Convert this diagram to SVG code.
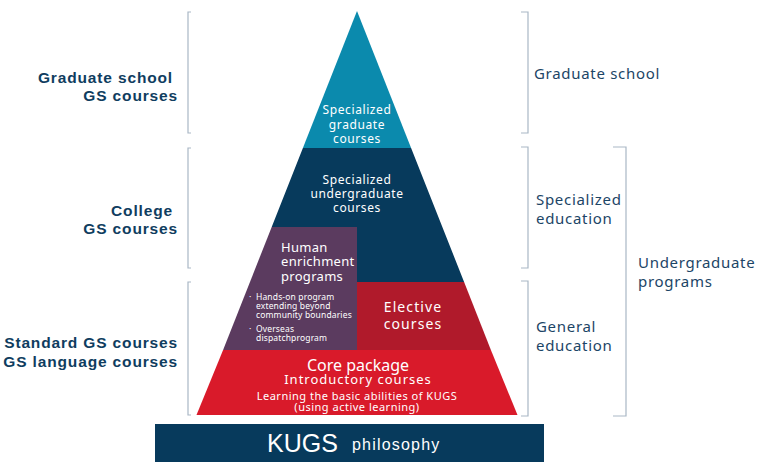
<svg xmlns="http://www.w3.org/2000/svg" width="759" height="474" viewBox="0 0 759 474">
<style>
.br{fill:none;stroke:#a9b7c5;stroke-width:1.2}
.in{font-family:"Noto Sans","Open Sans",sans-serif;fill:#fff;text-anchor:middle}
.lt{font-family:"Liberation Sans",Arial,sans-serif;font-weight:bold;font-size:15.5px;letter-spacing:0.85px;fill:#0f3d60;text-anchor:end}
.rt{font-family:"Noto Sans","Open Sans",sans-serif;font-size:15px;letter-spacing:0.7px;fill:#1c4566}
.bl{font-family:"Noto Sans","Open Sans",sans-serif;font-size:8.5px;letter-spacing:0.15px;fill:#fff}
</style>
<rect width="759" height="474" fill="#fff"/>
<g id="brackets">
<path class="br" d="M191,12 H188 V133 H191"/>
<path class="br" d="M191,148 H188 V268 H191"/>
<path class="br" d="M191,282 H188 V415 H191"/>
<path class="br" d="M521,12 H528 V133 H521"/>
<path class="br" d="M521,147 H528 V268 H521"/>
<path class="br" d="M521,281 H528 V416 H521"/>
<path class="br" d="M613,147 H626 V416 H613"/>
</g>
<g id="graduate">
<polygon points="357,11 411.1,148 302.9,148" fill="#0b8aad"/>
<text class="in" font-size="12" letter-spacing="0.6"><tspan x="357" y="114">Specialized</tspan><tspan x="357" y="129">graduate</tspan><tspan x="357" y="143">courses</tspan></text>
</g>
<g id="undergraduate">
<polygon points="302.9,148 411.1,148 464.1,282 357,282 357,227 271.7,227" fill="#073a5c"/>
<text class="in" font-size="12" letter-spacing="0.6"><tspan x="357" y="184">Specialized</tspan><tspan x="357" y="198">undergraduate</tspan><tspan x="357" y="212">courses</tspan></text>
</g>
<g id="human">
<polygon points="271.7,227 357,227 357,350 223.1,350" fill="#5b3b5f"/>
<text font-family="Noto Sans, Open Sans, sans-serif" font-size="13" letter-spacing="0.3" fill="#fff"><tspan x="281" y="252">Human</tspan><tspan x="281" y="266">enrichment</tspan><tspan x="281" y="281">programs</tspan></text>
<text class="bl" x="249" y="300">·</text>
<text class="bl"><tspan x="256" y="300">Hands-on program</tspan><tspan x="256" y="309">extending beyond</tspan><tspan x="256" y="318">community boundaries</tspan></text>
<text class="bl" x="249" y="332">·</text>
<text class="bl"><tspan x="256" y="332">Overseas</tspan><tspan x="256" y="341">dispatchprogram</tspan></text>
</g>
<g id="elective">
<polygon points="357,282 464.1,282 490.9,350 357,350" fill="#b01a2b"/>
<text class="in" font-size="14" letter-spacing="1.1"><tspan x="413" y="312">Elective</tspan><tspan x="413" y="329">courses</tspan></text>
</g>
<g id="core">
<polygon points="223.1,350 490.9,350 517.5,415 196.5,415" fill="#d91a2a"/>
<text class="in" font-size="16" x="358" y="371">Core package</text>
<text class="in" font-size="13" letter-spacing="1" x="358" y="384">Introductory courses</text>
<text class="in" font-size="11" letter-spacing="0.5" x="357" y="400">Learning the basic abilities of KUGS</text>
<text class="in" font-size="11" letter-spacing="0.5" x="357" y="411">(using active learning)</text>
</g>
<g id="philosophy">
<rect x="155" y="424" width="389" height="38" fill="#073a5c"/>
<text font-family="Liberation Sans, Arial, sans-serif" fill="#fff"><tspan x="267" y="452" font-size="25">KUGS</tspan><tspan x="352" y="450" font-size="16" letter-spacing="1.2">philosophy</tspan></text>
</g>
<g id="left-labels">
<text class="lt"><tspan x="173" y="83">Graduate school</tspan><tspan x="178" y="101">GS courses</tspan></text>
<text class="lt"><tspan x="173" y="216">College</tspan><tspan x="178" y="234">GS courses</tspan></text>
<text class="lt"><tspan x="178" y="348">Standard GS courses</tspan><tspan x="178" y="367">GS language courses</tspan></text>
</g>
<g id="right-labels">
<text class="rt" x="534" y="79">Graduate school</text>
<text class="rt"><tspan x="536" y="205">Specialized</tspan><tspan x="536" y="224">education</tspan></text>
<text class="rt"><tspan x="536" y="332">General</tspan><tspan x="536" y="351">education</tspan></text>
<text class="rt"><tspan x="638" y="268">Undergraduate</tspan><tspan x="638" y="287">programs</tspan></text>
</g>
</svg>
